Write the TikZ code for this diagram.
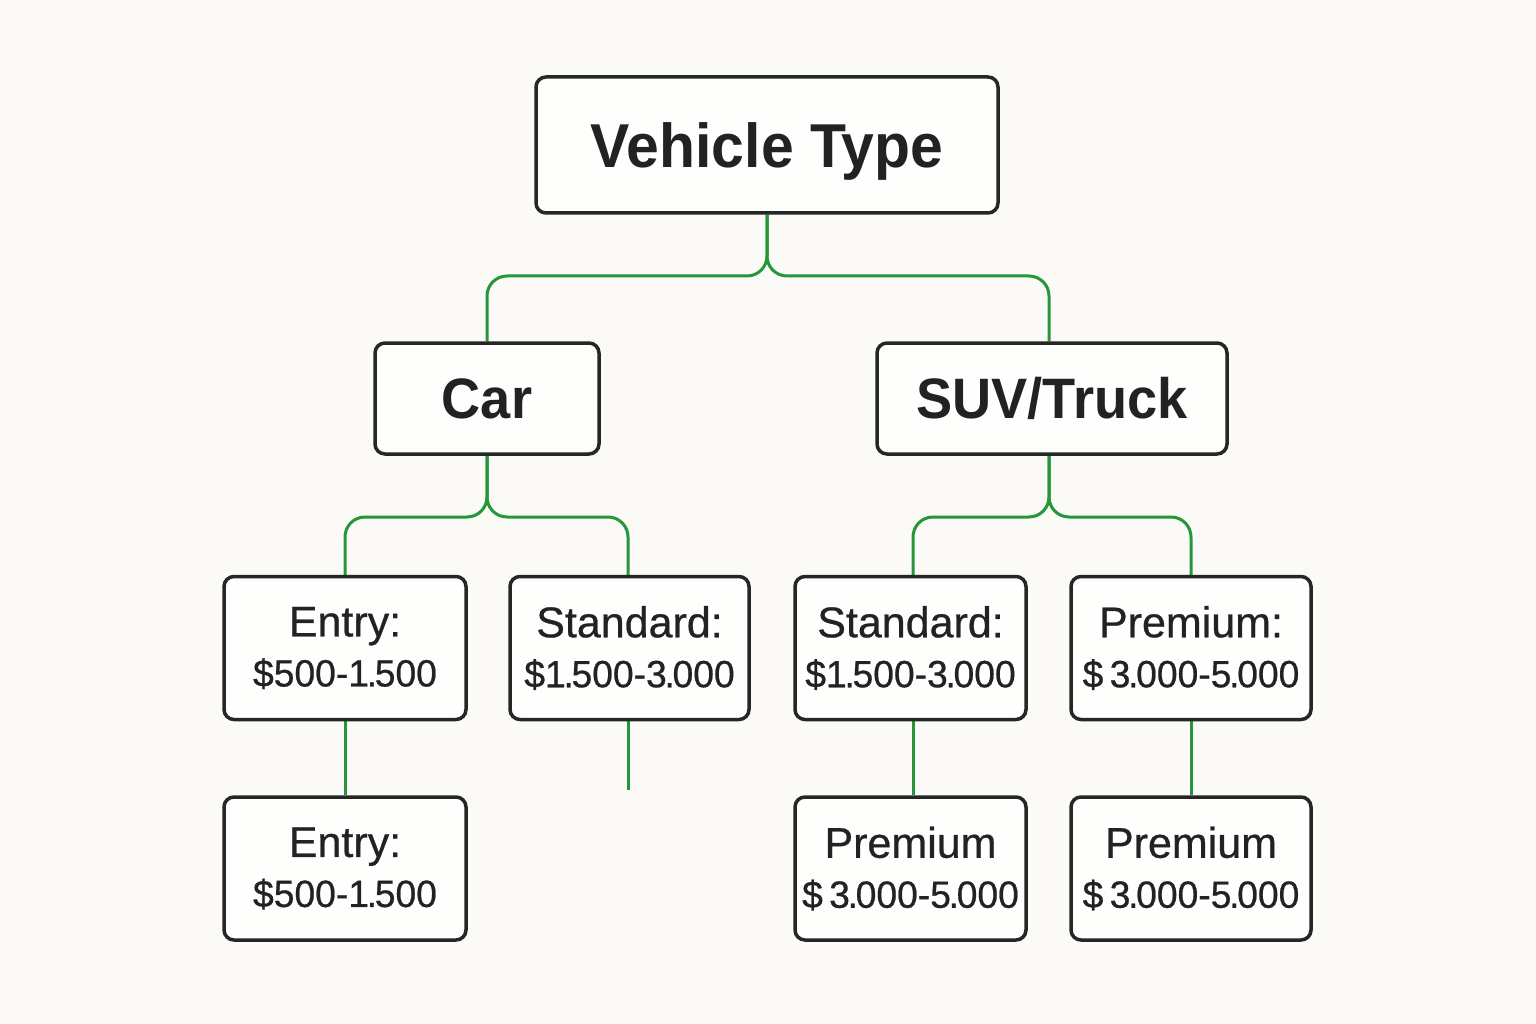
\documentclass[tikz,border=0pt]{standalone}
\usepackage{fontspec}
\setmainfont{Liberation Sans}
\newfontfamily\headfont[FakeStretch=0.95]{Liberation Sans}
\newfontfamily\leaffont[FakeBold=0.6]{Liberation Sans}
\newfontfamily\pricefont[FakeStretch=0.98,FakeBold=0.6]{Liberation Sans}
\usetikzlibrary{backgrounds}
\definecolor{bg}{HTML}{FBFAF6}
\definecolor{boxline}{HTML}{262626}
\definecolor{conngreen}{HTML}{23973A}
\definecolor{txt}{HTML}{222222}
\tikzset{
  box/.style={draw=boxline, line width=3.5pt, rounded corners=10pt, fill=white!70!bg,
    inner sep=0pt, align=center, text=txt},
  headbox/.style={box, text depth=0pt, font=\headfont\bfseries\fontsize{62}{70}\selectfont},
  midbox/.style={box, font=\headfont\bfseries\fontsize{57}{64}\selectfont},
  leafbox/.style={box, font=\leaffont\fontsize{43}{50}\selectfont, minimum height=143pt},
  conn/.style={draw=conngreen, line width=3pt, rounded corners=20pt},
}
\newcommand{\price}[1]{{\pricefont\fontsize{38}{50}\selectfont #1}}
\newcommand{\dt}{\kern-0.06em.\kern-0.06em}
\begin{document}
\begin{tikzpicture}[x=1pt,y=-1pt]
\useasboundingbox (0,0) rectangle (1536,1024);
% nodes
\node[headbox, minimum width=462pt, minimum height=136pt] (vt) at (767,145) {Vehicle Type};
\node[midbox, minimum width=224pt, minimum height=111pt] (car) at (487,398.5) {Car};
\node[midbox, minimum width=350pt, minimum height=111pt] (suv) at (1052,398.5) {SUV/Truck};
\node[leafbox, minimum width=242pt] (e1) at (345,648) {Entry:\\\price{\$500-1\dt500}};
\node[leafbox, minimum width=239pt] (s1) at (629.5,648) {Standard:\\\price{\$1\dt500-3\dt000}};
\node[leafbox, minimum width=231pt] (s2) at (910.5,648) {Standard:\\\price{\$1\dt500-3\dt000}};
\node[leafbox, minimum width=240pt] (p1) at (1191,648) {Premium:\\\price{\$\,3\dt000-5\dt000}};
\node[leafbox, minimum width=242pt] (e2) at (345,868.5) {Entry:\\\price{\$500-1\dt500}};
\node[leafbox, minimum width=231pt] (p2) at (910.5,868.5) {Premium\\\price{\$\,3\dt000-5\dt000}};
\node[leafbox, minimum width=240pt] (p3) at (1191,868.5) {Premium\\\price{\$\,3\dt000-5\dt000}};
\coordinate (j1) at (767,276);
\coordinate (j2) at (487,517);
\coordinate (j3) at (1049,517);
\coordinate (dangle) at (628,790);
\begin{pgfonlayer}{background}
\fill[bg] (0,0) rectangle (1536,1024);
% connectors
\draw[conn] (vt.south) -- (j1) -- (j1 -| car.north) -- (car.north);
\draw[conn] (vt.south) -- (j1) -- (j1 -| 1049,0) -- (suv.north -| 1049,0);
\draw[conn] (car.south) -- (j2) -- (j2 -| e1.north) -- (e1.north);
\draw[conn] (car.south) -- (j2) -- (j2 -| 628,0) -- (s1.north -| 628,0);
\draw[conn] (suv.south -| 1049,0) -- (j3) -- (j3 -| 913,0) -- (s2.north -| 913,0);
\draw[conn] (suv.south -| 1049,0) -- (j3) -- (j3 -| p1.north) -- (p1.north);
\draw[conn] (e1.south) -- (e2.north);
\draw[conn] (s1.south -| dangle) -- (dangle);
\draw[conn] (s2.south -| 913,0) -- (p2.north -| 913,0);
\draw[conn] (p1.south) -- (p3.north);
\end{pgfonlayer}
\end{tikzpicture}
\end{document}
